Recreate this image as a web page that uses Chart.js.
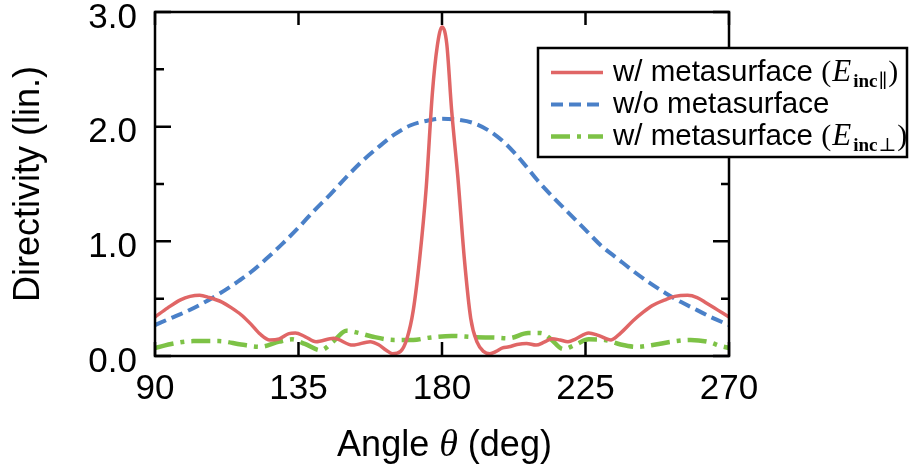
<!DOCTYPE html>
<html>
<head>
<meta charset="utf-8">
<script src="https://cdn.jsdelivr.net/npm/chart.js@4"></script>
<style>
  html, body { margin: 0; padding: 0; background: #fff; }
  canvas { display: block; }
</style>
</head>
<body>
<canvas id="directivityChart" width="912" height="472"></canvas>
<script>
// tick values
const xTicks = [90, 135, 180, 225, 270];
const yTicks = [0, 1, 2, 3];
const yMinorTicks = [0.5, 1.5, 2.5];

// w/ metasurface (E_inc parallel) - red solid
const redAngles = [90, 94, 98, 101, 104, 107, 111, 114, 117, 120, 123, 126, 129, 132, 134, 137, 140.5, 146, 152, 157.5, 160, 162.5, 164.5, 167, 169, 171, 173, 175, 177, 178.5, 180, 181.5, 183, 185, 187, 189, 191, 193, 195, 197, 199, 201, 203.5, 206.5, 209.5, 212, 214.5, 217, 219.5, 222, 226, 229, 233, 236, 240, 243, 246, 250, 253, 257, 260, 263, 266.5, 270];
const redValues = [0.34, 0.42, 0.49, 0.52, 0.53, 0.51, 0.47, 0.42, 0.36, 0.28, 0.19, 0.14, 0.15, 0.195, 0.20, 0.17, 0.125, 0.155, 0.095, 0.125, 0.10, 0.05, 0.02, 0.04, 0.15, 0.40, 0.85, 1.45, 2.30, 2.70, 2.87, 2.72, 2.15, 1.55, 0.85, 0.33, 0.12, 0.04, 0.02, 0.04, 0.07, 0.08, 0.10, 0.11, 0.095, 0.12, 0.15, 0.14, 0.125, 0.15, 0.20, 0.18, 0.14, 0.20, 0.31, 0.38, 0.44, 0.49, 0.52, 0.53, 0.51, 0.46, 0.40, 0.34];

// w/o metasurface - blue dashed
const blueAngles = [90, 95, 100, 105, 110, 115, 120, 125, 130, 135, 140, 145, 150, 155, 160, 165, 170, 175, 180, 185, 190, 195, 200, 205, 210, 215, 220, 225, 230, 235, 240, 245, 250, 255, 260, 265, 270];
const blueValues = [0.27, 0.33, 0.39, 0.46, 0.54, 0.63, 0.73, 0.85, 0.98, 1.12, 1.27, 1.41, 1.56, 1.70, 1.82, 1.93, 2.01, 2.05, 2.07, 2.06, 2.03, 1.96, 1.85, 1.70, 1.53, 1.38, 1.24, 1.10, 0.96, 0.85, 0.74, 0.64, 0.55, 0.47, 0.40, 0.33, 0.27];

// w/ metasurface (E_inc perpendicular) - green dash-dot
const greenAngles = [90, 96, 102, 110, 117, 123, 129, 133, 137, 142, 146, 150, 154, 158, 165, 171, 176, 183, 190, 197, 201, 207, 211, 214, 218, 222, 226, 231, 236, 241, 247, 252, 258, 264, 267, 270];
const greenValues = [0.07, 0.11, 0.13, 0.13, 0.10, 0.08, 0.125, 0.145, 0.105, 0.05, 0.13, 0.22, 0.20, 0.17, 0.14, 0.14, 0.16, 0.175, 0.165, 0.16, 0.155, 0.20, 0.20, 0.15, 0.06, 0.10, 0.145, 0.14, 0.10, 0.08, 0.10, 0.125, 0.14, 0.12, 0.09, 0.07];

const seriesNames = ['w/ metasurface', 'w/o metasurface', 'w/ metasurface'];
const seriesMath = ['\u2225', null, '\u22A5'];

const RED = '#e06666';
const BLUE = '#4a80c8';
const GREEN = '#7dc246';
const SANS = '"Liberation Sans", Arial, sans-serif';
const SERIF = '"Liberation Serif", "Times New Roman", serif';

function toPoints(xs, ys) {
    return xs.map((x, i) => ({ x: x, y: ys[i] }));
}

const datasets = [
    { label: seriesNames[0], data: toPoints(redAngles, redValues), borderColor: RED, borderWidth: 3.5, borderDash: [] },
    { label: seriesNames[1], data: toPoints(blueAngles, blueValues), borderColor: BLUE, borderWidth: 4, borderDash: [12, 6] },
    { label: seriesNames[2], data: toPoints(greenAngles, greenValues), borderColor: GREEN, borderWidth: 4.5, borderDash: [19, 7, 4, 7] }
];
datasets.forEach(d => {
    d.fill = false;
    d.pointRadius = 0;
    d.cubicInterpolationMode = 'monotone';
    d.borderCapStyle = 'butt';
});

// box around the plot with inward ticks on all four sides, titles and legend
const framePlugin = {
    id: 'frame',
    afterDatasetsDraw(chart) {
        const ctx = chart.ctx;
        const a = chart.chartArea;
        const xs = chart.scales.x, ys = chart.scales.y;
        ctx.save();
        ctx.strokeStyle = '#000';
        ctx.lineWidth = 2.5;
        ctx.strokeRect(a.left, a.top, a.right - a.left, a.bottom - a.top);
        ctx.beginPath();
        xTicks.forEach(v => {
            const px = xs.getPixelForValue(v);
            ctx.moveTo(px, a.bottom); ctx.lineTo(px, a.bottom - 14);
            ctx.moveTo(px, a.top); ctx.lineTo(px, a.top + 13);
        });
        yTicks.forEach(v => {
            const py = ys.getPixelForValue(v);
            ctx.moveTo(a.left, py); ctx.lineTo(a.left + 16, py);
            ctx.moveTo(a.right, py); ctx.lineTo(a.right - 16, py);
        });
        yMinorTicks.forEach(v => {
            const py = ys.getPixelForValue(v);
            ctx.moveTo(a.left, py); ctx.lineTo(a.left + 9, py);
            ctx.moveTo(a.right, py); ctx.lineTo(a.right - 8, py);
        });
        ctx.stroke();
        ctx.restore();
    },
    afterDraw(chart) {
        const ctx = chart.ctx;
        ctx.save();
        ctx.fillStyle = '#000';
        // y title
        ctx.translate(39, 184);
        ctx.rotate(-Math.PI / 2);
        ctx.font = '36px ' + SANS;
        ctx.textAlign = 'center';
        ctx.textBaseline = 'alphabetic';
        ctx.fillText('Directivity (lin.)', 0, 0);
        ctx.restore();

        // x title with italic theta
        ctx.save();
        ctx.fillStyle = '#000';
        ctx.textBaseline = 'alphabetic';
        const parts = [
            ['Angle ', '36px ' + SANS],
            ['\u03B8', 'italic 38px ' + SERIF],
            [' (deg)', '36px ' + SANS]
        ];
        let total = 0;
        parts.forEach(p => { ctx.font = p[1]; total += ctx.measureText(p[0]).width; });
        let x = 444.5 - total / 2;
        parts.forEach(p => { ctx.font = p[1]; ctx.fillText(p[0], x, 456); x += ctx.measureText(p[0]).width; });
        ctx.restore();

        // legend
        ctx.save();
        const bx = 538, by = 48, bw = 369, bh = 109;
        ctx.fillStyle = '#fff';
        ctx.fillRect(bx, by, bw, bh);
        ctx.strokeStyle = '#000';
        ctx.lineWidth = 2.5;
        ctx.strokeRect(bx, by, bw, bh);
        const baselines = [81, 113, 145];
        chart.data.datasets.forEach((d, i) => {
            const ly = baselines[i] - 8.5;
            ctx.beginPath();
            ctx.strokeStyle = d.borderColor;
            ctx.lineWidth = d.borderWidth;
            ctx.setLineDash(d.borderDash);
            ctx.lineCap = 'butt';
            ctx.moveTo(551, ly);
            ctx.lineTo(603, ly);
            ctx.stroke();
            ctx.setLineDash([]);
            ctx.fillStyle = '#000';
            ctx.font = '29.5px ' + SANS;
            ctx.textAlign = 'left';
            ctx.textBaseline = 'alphabetic';
            let tx = 613;
            const name = d.label + (seriesMath[i] ? ' ' : '');
            ctx.fillText(name, tx, baselines[i]);
            tx += ctx.measureText(name).width;
            if (seriesMath[i]) {
                const y = baselines[i];
                ctx.font = '30px ' + SERIF;
                ctx.fillText('(', tx, y); tx += ctx.measureText('(').width + 1;
                ctx.font = 'italic 31px ' + SERIF;
                ctx.fillText('E', tx, y); tx += ctx.measureText('E').width + 2;
                ctx.font = 'bold 19px ' + SERIF;
                ctx.fillText('inc', tx, y + 6); tx += ctx.measureText('inc').width + 1;
                ctx.font = '19px "DejaVu Serif", serif';
                ctx.fillText(seriesMath[i], tx, y + 6); tx += ctx.measureText(seriesMath[i]).width + 1;
                ctx.font = '30px ' + SERIF;
                ctx.fillText(')', tx, y);
            }
        });
        ctx.restore();
    }
};

new Chart(document.getElementById('directivityChart').getContext('2d'), {
    type: 'line',
    data: { datasets: datasets },
    plugins: [framePlugin],
    options: {
        responsive: false,
        animation: false,
        devicePixelRatio: 1,
        layout: { padding: { top: 12, right: 183, left: 0, bottom: 0 } },
        plugins: { legend: { display: false }, tooltip: { enabled: false } },
        scales: {
            x: {
                type: 'linear',
                min: 90,
                max: 270,
                afterBuildTicks: s => { s.ticks = xTicks.map(v => ({ value: v })); },
                grid: { display: false },
                border: { display: false },
                ticks: { color: '#000', font: { family: SANS, size: 35 }, padding: 4, maxRotation: 0, autoSkip: false },
                afterFit: s => { s.height = 116; s.paddingLeft = 0; s.paddingRight = 0; }
            },
            y: {
                type: 'linear',
                min: 0,
                max: 3,
                afterBuildTicks: s => { s.ticks = yTicks.map(v => ({ value: v })); },
                grid: { display: false },
                border: { display: false },
                ticks: {
                    color: '#000',
                    font: { family: SANS, size: 35 },
                    padding: 10,
                    labelOffset: 6,
                    callback: v => v.toFixed(1)
                },
                afterFit: s => { s.width = 155; s.paddingTop = 0; s.paddingBottom = 0; }
            }
        }
    }
});
</script>
</body>
</html>
